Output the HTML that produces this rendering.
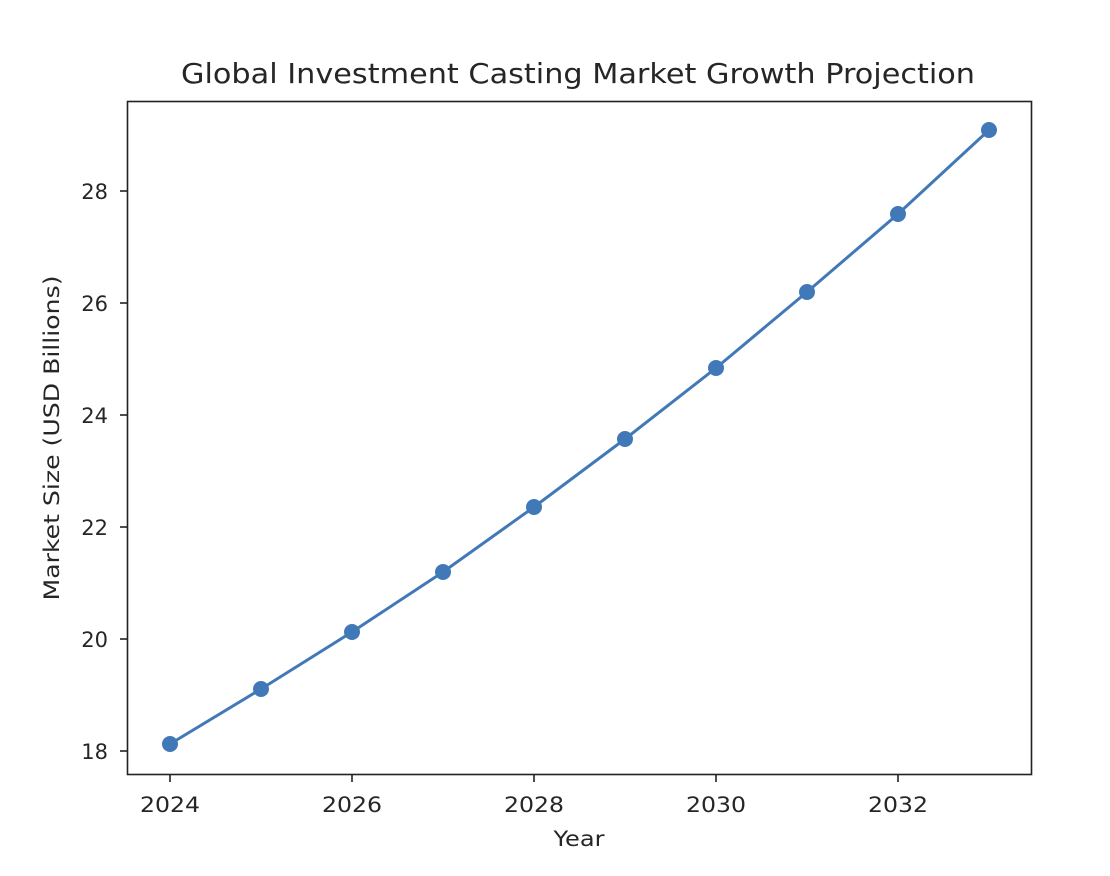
<!DOCTYPE html>
<html><head><style>body{margin:0;background:#fff}</style></head><body>
<svg width="1110" height="871" xmlns="http://www.w3.org/2000/svg" font-family="'DejaVu Sans', 'Liberation Sans', sans-serif" fill="#262626">
<rect width="1110" height="871" fill="#fff"/>
<text x="181" y="83" font-size="28" textLength="794" lengthAdjust="spacingAndGlyphs">Global Investment Casting Market Growth Projection</text>
<g stroke="#4179b8" stroke-width="3" fill="none">
<polyline points="170,744 261,689 352,632 443,572 534,507 625,439 716,368 807,292 898,214 989,130"/>
</g>
<g fill="#4179b8">
<circle cx="170" cy="744" r="8"/><circle cx="261" cy="689" r="8"/><circle cx="352" cy="632" r="8"/><circle cx="443" cy="572" r="8"/><circle cx="534" cy="507" r="8"/><circle cx="625" cy="439" r="8"/><circle cx="716" cy="368" r="8"/><circle cx="807" cy="292" r="8"/><circle cx="898" cy="214" r="8"/><circle cx="989" cy="130" r="8"/>
</g>
<rect x="127.5" y="101.5" width="904" height="673" fill="none" stroke="#222" stroke-width="1.6"/>
<g stroke="#222" stroke-width="1.6">
<line x1="120" y1="751" x2="127" y2="751"/><line x1="120" y1="639" x2="127" y2="639"/><line x1="120" y1="527" x2="127" y2="527"/><line x1="120" y1="415" x2="127" y2="415"/><line x1="120" y1="303" x2="127" y2="303"/><line x1="120" y1="191" x2="127" y2="191"/>
<line x1="170" y1="775" x2="170" y2="782"/><line x1="352" y1="775" x2="352" y2="782"/><line x1="534" y1="775" x2="534" y2="782"/><line x1="716" y1="775" x2="716" y2="782"/><line x1="898" y1="775" x2="898" y2="782"/>
</g>
<g font-size="21" text-anchor="end">
<text x="108" y="759">18</text><text x="108" y="647">20</text><text x="108" y="535">22</text><text x="108" y="423">24</text><text x="108" y="311">26</text><text x="108" y="199">28</text>
</g>
<g font-size="21" text-anchor="middle">
<text x="170" y="812" textLength="60" lengthAdjust="spacingAndGlyphs">2024</text><text x="352" y="812" textLength="60" lengthAdjust="spacingAndGlyphs">2026</text><text x="534" y="812" textLength="60" lengthAdjust="spacingAndGlyphs">2028</text><text x="716" y="812" textLength="60" lengthAdjust="spacingAndGlyphs">2030</text><text x="898" y="812" textLength="60" lengthAdjust="spacingAndGlyphs">2032</text>
<text x="579" y="846" textLength="51" lengthAdjust="spacingAndGlyphs">Year</text>
<text transform="translate(59,438) rotate(-90)" textLength="325" lengthAdjust="spacingAndGlyphs">Market Size (USD Billions)</text>
</g>
</svg>
</body></html>
